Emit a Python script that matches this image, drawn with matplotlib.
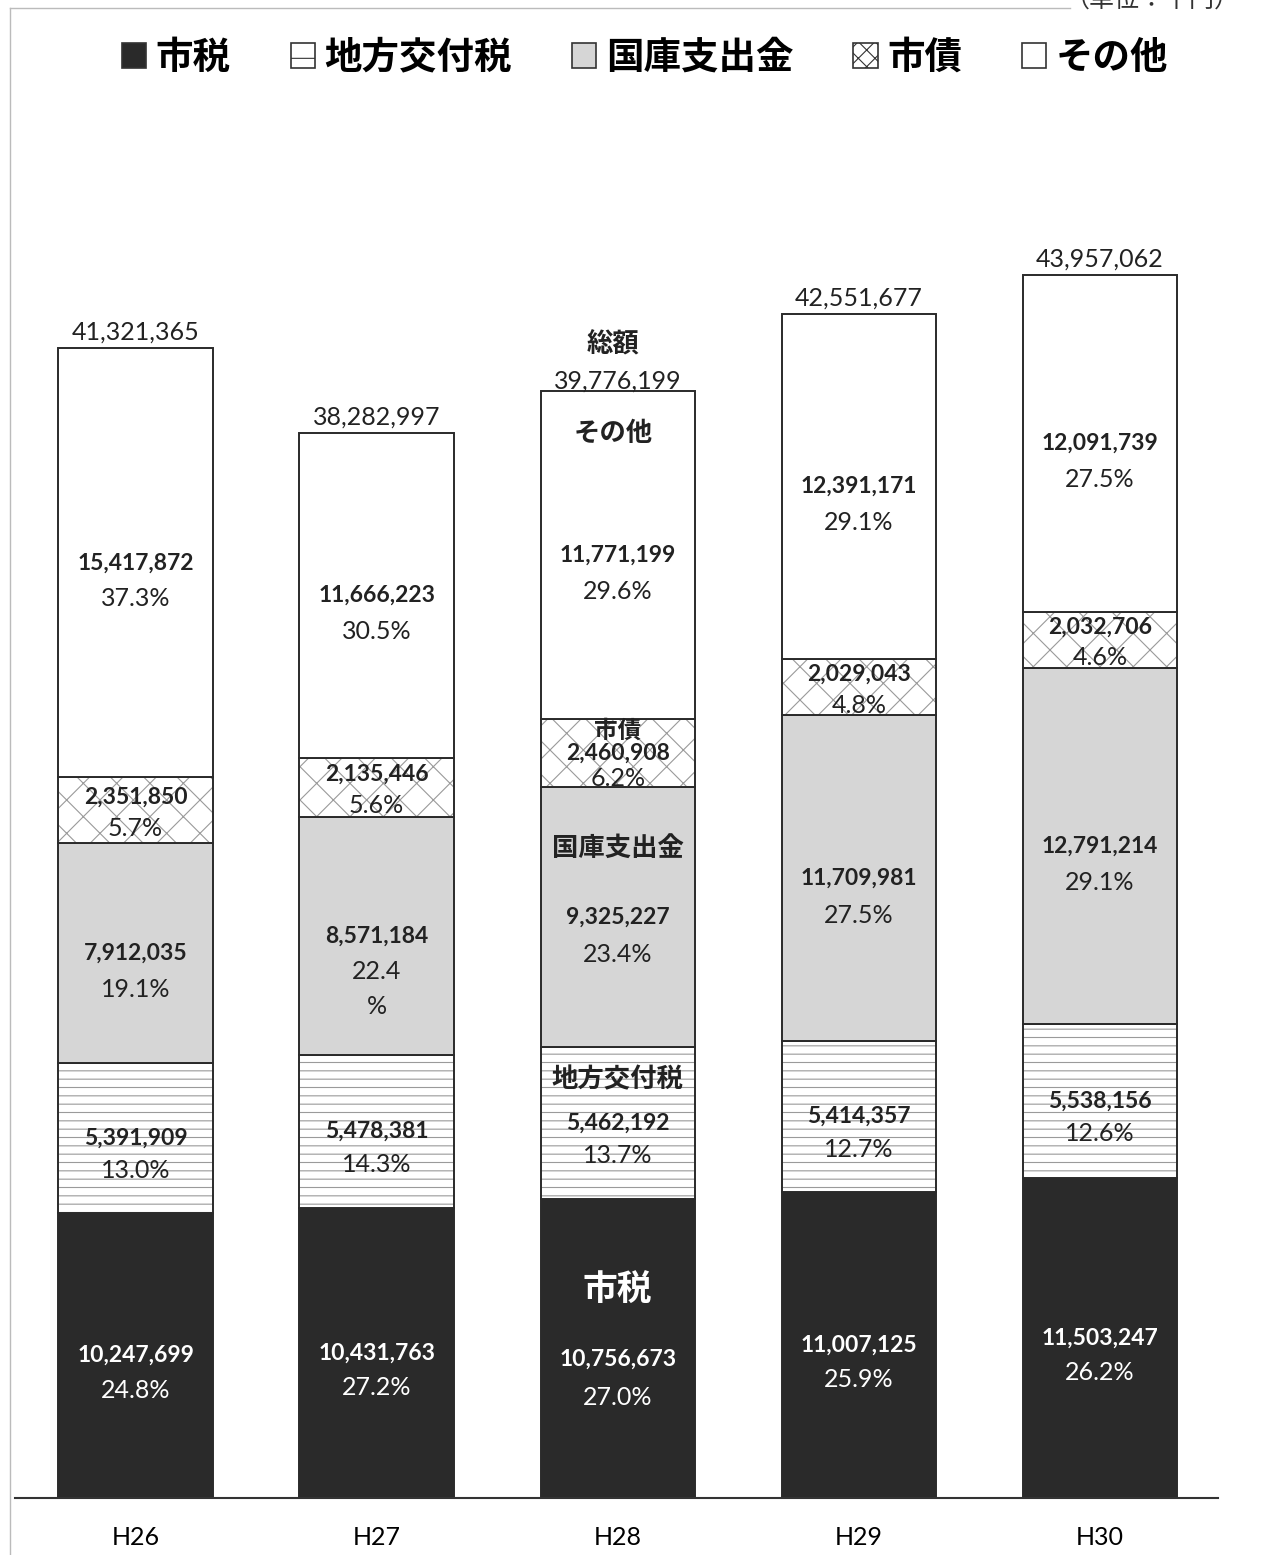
import matplotlib
matplotlib.use("Agg")
import matplotlib.pyplot as plt
from matplotlib.patches import Patch
from matplotlib.lines import Line2D
import numpy as np

plt.rcParams['font.family'] = ['Noto Sans CJK JP', 'DejaVu Sans']
plt.rcParams['hatch.linewidth'] = 0.8

# data (単位：千円)
years = ['H26', 'H27', 'H28', 'H29', 'H30']
names = ['市税', '地方交付税', '国庫支出金', '市債', 'その他']
shizei = [10247699, 10431763, 10756673, 11007125, 11503247]
chiho = [5391909, 5478381, 5462192, 5414357, 5538156]
kokko = [7912035, 8571184, 9325227, 11709981, 12791214]
shisai = [2351850, 2135446, 2460908, 2029043, 2032706]
sonota = [15417872, 11666223, 11771199, 12391171, 12091739]
totals = [41321365, 38282997, 39776199, 42551677, 43957062]
pct_shizei = ['24.8%', '27.2%', '27.0%', '25.9%', '26.2%']
pct_chiho = ['13.0%', '14.3%', '13.7%', '12.7%', '12.6%']
pct_kokko = ['19.1%', '22.4\n%', '23.4%', '27.5%', '29.1%']
pct_shisai = ['5.7%', '5.6%', '6.2%', '4.8%', '4.6%']
pct_sonota = ['37.3%', '30.5%', '29.6%', '29.1%', '27.5%']

series = [shizei, chiho, kokko, shisai, sonota]
pcts = [pct_shizei, pct_chiho, pct_kokko, pct_shisai, pct_sonota]
faces = ['#2a2a2a', 'white', '#d6d6d6', 'white', 'white']
hatches = [None, '--', None, 'x', None]
leg_hatches = [None, '-', None, 'xx', None]
txt_col = ['white', '#222222', '#222222', '#222222', '#222222']
num_font = ['Lato', 'Noto Sans CJK JP']

W, H = 1265, 1555
fig = plt.figure(figsize=(W / 100, H / 100), dpi=100)
ax = fig.add_axes([15 / W, 57 / H, 1203 / W, 1391 / H])
ax.set_xlim(-0.5, 4.49)
ax.set_ylim(0, 50e6)

px = 50e6 / 1391  # data units per pixel
x = np.arange(len(years))
bw = 0.64

bottom = np.zeros(len(years))
for i, vals in enumerate(series):
    vals = np.array(vals)
    if hatches[i]:
        ax.bar(x, vals, bw, bottom=bottom, color=faces[i], edgecolor='#9a9a9a',
               hatch=hatches[i], linewidth=0)
        ax.bar(x, vals, bw, bottom=bottom, fill=False, edgecolor='#2a2a2a', linewidth=1.4)
    else:
        ax.bar(x, vals, bw, bottom=bottom, color=faces[i], edgecolor='#2a2a2a', linewidth=1.4)

    # value / percent labels (offsets in px, + = down)
    voff, poff = {0: (0, 35), 1: (0, 33), 2: (0, 37), 3: (-13, 18), 4: (0, 36)}[i]
    for j in range(len(years)):
        mid = bottom[j] + vals[j] / 2
        vo, po = voff, poff
        if j == 2 and i == 3:
            vo, po = 0, 25
        if j == 2 and i == 0:
            vo, po = 11, 49
        if j == 1 and i == 2:
            vo, po = 0, 53
        ax.text(x[j], mid - vo * px, f'{vals[j]:,}', ha='center', va='center',
                fontsize=16.5, fontweight='bold', color=txt_col[i], family=num_font)
        ax.text(x[j], mid - po * px, pcts[i][j], ha='center', va='center',
                fontsize=18, color=txt_col[i], family=num_font, linespacing=1.6)
    bottom = bottom + vals

# totals
for j in range(len(years)):
    off = 10 if j == 2 else 16
    ax.text(x[j], totals[j] + off * px, f'{totals[j]:,}', ha='center', va='center',
            fontsize=18, color='#222222', family=num_font)

# category names inside H28
j = 2
b = np.cumsum([0] + [s[j] for s in series])
ax.text(x[j] - 0.02, totals[j] + 46 * px, '総額', ha='center', va='center',
        fontsize=19, fontweight='bold', color='#222222')
ax.text(x[j] - 0.02, totals[j] - 42 * px, 'その他', ha='center', va='center',
        fontsize=19, fontweight='bold', color='#222222')
ax.text(x[j], (b[3] + b[4]) / 2 + 22 * px, '市債', ha='center', va='center',
        fontsize=17, fontweight='bold', color='#222222')
ax.text(x[j], (b[2] + b[3]) / 2 + 69 * px, '国庫支出金', ha='center', va='center',
        fontsize=19, fontweight='bold', color='#222222')
ax.text(x[j], (b[1] + b[2]) / 2 + 43 * px, '地方交付税', ha='center', va='center',
        fontsize=19, fontweight='bold', color='#222222')
ax.text(x[j], (b[0] + b[1]) / 2 + 58 * px, '市税', ha='center', va='center',
        fontsize=25, fontweight='bold', color='white')

for s in ['top', 'right', 'left']:
    ax.spines[s].set_visible(False)
ax.spines['bottom'].set_color('#333333')
ax.spines['bottom'].set_linewidth(1.5)
ax.set_yticks([])
ax.set_xticks(x)
ax.set_xticklabels(years, fontsize=18, family=num_font)
ax.tick_params(axis='x', length=0, pad=20)

# legend
handles = []
for i in range(len(names)):
    handles.append(Patch(facecolor=faces[i], edgecolor='#333333', hatch=leg_hatches[i],
                         linewidth=1.2, label=names[i]))
fig.legend(handles=handles, loc='center', bbox_to_anchor=(0.51, 1 - 57 / H), ncol=5,
           frameon=False, prop={'size': 27, 'weight': 'bold'},
           handlelength=0.65, handleheight=0.65, handletextpad=0.25, columnspacing=1.6)

# unit note (cut at top edge, as in the source) and frame lines
fig.text(1240 / W, 1.0, '（単位：千円）', ha='right', va='center', fontsize=18, color='#333333')
fig.add_artist(Line2D([10 / W, 10 / W], [0, 1 - 8 / H], color='#bbbbbb', lw=1))
fig.add_artist(Line2D([10 / W, 1070 / W], [1 - 8 / H, 1 - 8 / H], color='#bbbbbb', lw=1))

fig.savefig('out.png', dpi=100)
